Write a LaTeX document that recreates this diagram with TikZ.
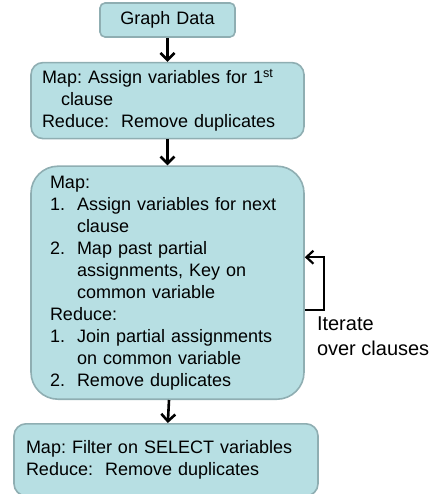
\documentclass[tikz,border=0pt]{standalone}
\usepackage{fontspec}
\setmainfont{Liberation Sans}
\usepackage{tikz}
\usetikzlibrary{positioning, arrows.meta}
\definecolor{boxfill}{HTML}{B7DFE3}
\definecolor{boxline}{HTML}{8FAEB2}
\tikzstyle{tealbox} = [rectangle, fill=boxfill, draw=boxline, line width=1.6pt,
font=\fontsize{18}{22}\selectfont, align=left, inner ysep=0pt]
\tikzstyle{flow} = [-{Straight Barb[length=7pt,width=14pt]}, line width=2.6pt]
\newcommand{\hang}[1]{\hspace*{#1}}
\newcommand{\numitem}[1]{\makebox[27pt][l]{#1}}
\frenchspacing

\begin{document}
\begin{tikzpicture}[node distance=24pt]
		\useasboundingbox (0,0) rectangle (432pt,-494pt);
		\node (graph) [tealbox, rounded corners=5pt, align=center, text width=125pt,
		minimum height=34pt, inner xsep=5pt] at (167.5pt,-20pt) {Graph Data};
		\node (mapone) [tealbox, rounded corners=12pt, text width=251pt,
		minimum height=76pt, inner xsep=11pt, below=of graph]
		{Map: Assign variables for 1\textsuperscript{st}\\
		\hang{19pt}clause\\
		Reduce:\ \ Remove duplicates};
		\node (loop) [tealbox, rounded corners=27pt, text width=235pt,
		minimum height=233pt, inner xsep=19pt, below=26pt of mapone]
		{Map:\\
		\numitem{1.}Assign variables for next\\
		\hang{27pt}clause\\
		\numitem{2.}Map past partial\\
		\hang{27pt}assignments, Key on\\
		\hang{27pt}common variable\\
		Reduce:\\
		\numitem{1.}Join partial assignments\\
		\hang{27pt}on common variable\\
		\numitem{2.}Remove duplicates};
		\node (select) [tealbox, rounded corners=12pt, text width=280pt,
		minimum height=72pt, inner xsep=12pt, below=23pt of loop, xshift=-1.5pt]
		{Map: Filter on SELECT variables\\
		Reduce:\ \ Remove duplicates};
		\node (iter) [anchor=base west, align=left, inner sep=0pt,
		font=\fontsize{20}{25}\selectfont] at ([xshift=12pt,yshift=-73pt]loop.east)
		{Iterate\\over clauses};
		
		\coordinate (loopout) at ([yshift=-27.5pt]loop.east);
		\coordinate (loopin) at ([yshift=25.5pt]loop.east);
		\draw [flow](graph) -- (mapone);
		\draw [flow](mapone) -- (loop);
		\draw [flow]([xshift=1.5pt]loop.south) -- (select);
		\draw [-{Straight Barb[length=7pt,width=13pt]}, line width=2.2pt]
		(loopout) -- ++(19pt,0) |- (loopin);
	\end{tikzpicture}
\end{document}
